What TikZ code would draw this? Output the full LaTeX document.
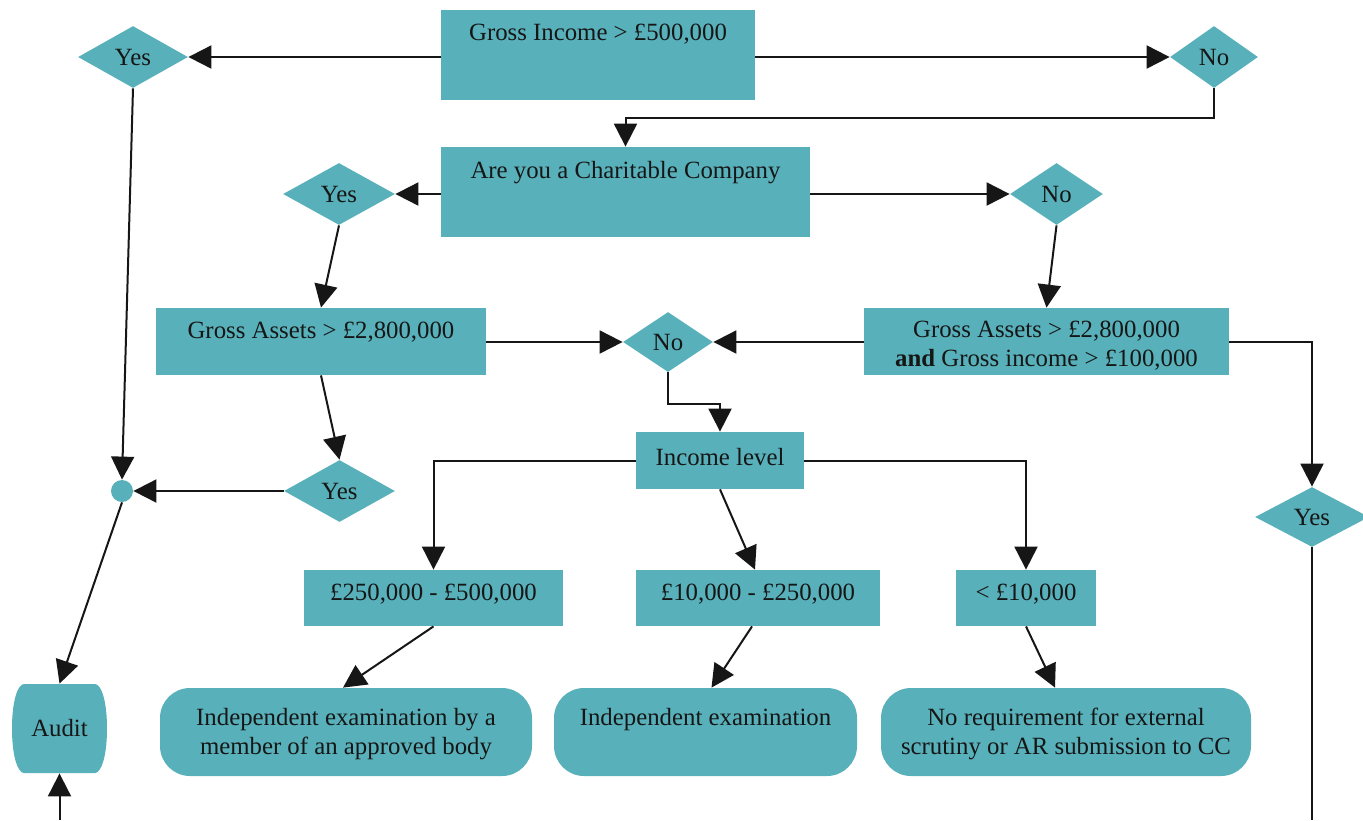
\documentclass[tikz,border=0pt]{standalone}
\usepackage{fontspec}
\setmainfont{Liberation Serif}
\usetikzlibrary{shapes.geometric,arrows.meta,calc}
\definecolor{tealbox}{RGB}{88,177,186}
\definecolor{ink}{RGB}{22,22,22}
\begin{document}
\begin{tikzpicture}[x=0.5pt,y=-0.5pt,
  font=\fontsize{12.4}{14.5}\selectfont, text=ink,
  box/.style={rectangle, fill=tealbox, inner sep=0},
  dia/.style={diamond, fill=tealbox, inner sep=0, aspect=1.8},
  rbox/.style={rectangle, rounded corners=15pt, fill=tealbox, inner sep=0},
  lbl/.style={anchor=north, inner sep=0, yshift=-7pt, align=center},
  rlbl/.style={anchor=north, inner sep=0, yshift=-10pt, align=center},
  arr/.style={-{Triangle[length=11.5pt,width=11.5pt]}, line width=1pt, draw=ink},
  ln/.style={line width=1pt, draw=ink}]
\useasboundingbox (0,0) rectangle (1363,820);

% boxes
\node[box, minimum width=157pt, minimum height=45pt, label={[lbl]north:Gross Income > £500,000}] (b1) at (598,55) {};
\node[box, minimum width=184.5pt, minimum height=45pt, label={[lbl]north:Are you a Charitable Company}] (b2) at (625.5,192) {};
\node[box, minimum width=165pt, minimum height=33.5pt, label={[lbl]north:Gross Assets > £2,800,000}] (b3) at (321,341.5) {};
\node[box, minimum width=182.5pt, minimum height=33.5pt, label={[lbl,yshift=0.5pt]north:{Gross Assets > £2,800,000\\\textbf{and} Gross income > £100,000}}] (b4) at (1046.5,341.5) {};
\node[box, minimum width=84pt, minimum height=28.5pt, label={[lbl,yshift=-1pt]north:Income level}] (inc) at (720,460.5) {};
\node[box, minimum width=129.5pt, minimum height=28pt, label={[lbl]north:£250,000 - £500,000}] (b250) at (433.5,598) {};
\node[box, minimum width=122pt, minimum height=28pt, label={[lbl]north:£10,000 - £250,000}] (b10) at (758,598) {};
\node[box, minimum width=70pt, minimum height=28pt, label={[lbl]north:< £10,000}] (blt) at (1026,598) {};

% rounded result boxes
\node[rbox, minimum width=186pt, minimum height=44pt, label={[rlbl]north:{Independent examination by a\\member of an approved body}}] (r1) at (346,732) {};
\node[rbox, minimum width=151.5pt, minimum height=44pt, label={[rlbl]north:Independent examination}] (r2) at (705.5,732) {};
\node[rbox, minimum width=185pt, minimum height=44pt, label={[rlbl]north:{No requirement for external\\scrutiny or AR submission to CC}}] (r3) at (1066,732) {};

% diamonds
\node[dia, minimum width=55pt, minimum height=31pt] (yes1) at (133,57) {Yes};
\node[dia, minimum width=44pt, minimum height=31pt] (no1) at (1214,57) {No};
\node[dia, minimum width=56pt, minimum height=31pt] (yes2) at (339,194) {Yes};
\node[dia, minimum width=46.5pt, minimum height=31pt] (no2) at (1056.5,194) {No};
\node[dia, minimum width=45pt, minimum height=30pt] (no3) at (668,342) {No};
\node[dia, minimum width=55.5pt, minimum height=31pt] (yes5) at (339.5,491) {Yes};
\node[dia, minimum width=57pt, minimum height=30pt] (yes4) at (1312,517) {Yes};

% junction dot
\node[circle, fill=tealbox, inner sep=0, minimum size=11pt] (dot) at (122,491) {};

% audit barrel
\fill[tealbox] (24,684) -- (95,684) .. controls (101,684) and (107,700) .. (107,728.5)
  .. controls (107,757) and (101,773) .. (95,773)
  -- (24,773) .. controls (18,773) and (12,757) .. (12,728.5)
  .. controls (12,700) and (18,684) .. (24,684);
\node[inner sep=0, minimum width=46.5pt, minimum height=44.5pt] (audit) at (59.5,728.5) {Audit};

\coordinate (bot1) at (1312,820);
\coordinate (bot2) at (59.5,820);

% connectors
\draw[arr] (b1.west |- yes1) -- (yes1.east);
\draw[arr] (b1.east |- no1) -- (no1.west);
\draw[arr] (no1.south) -- ++(0,30) -| (b2.north);
\draw[arr] (b2.west |- yes2) -- (yes2.east);
\draw[arr] (b2.east |- no2) -- (no2.west);
\draw[arr] (yes2.south) -- (b3.north);
\draw[arr] (no2.south) -- (b4.north);
\draw[arr] (b3.east |- no3) -- (no3.west);
\draw[arr] (b4.west |- no3) -- (no3.east);
\draw[arr] (b4.east) -| (yes4.north);
\draw[ln] (yes4.south) -- (bot1);
\draw[arr] (no3.south) -- ++(0,32) -| (inc.north);
\draw[arr] (inc.west) -| (b250.north);
\draw[arr] (inc.east) -| (blt.north);
\draw[arr] (inc.south) -- ($(b10.north)+(-3,0)$);
\draw[arr] (b250.south) -- ($(r1.north)+(-3,0)$);
\draw[arr] ($(b10.south)+(-6,0)$) -- ($(r2.north)+(6,0)$);
\draw[arr] (blt.south) -- ($(r3.north)+(-11,0)$);
\draw[arr] (b3.south) -- (yes5.north);
\draw[arr] (yes5.west) -- (dot.east);
\draw[arr] (yes1.south) -- (dot.north);
\draw[arr] (dot.south) -- (audit.north);
\draw[arr] (bot2) -- (audit.south);
\end{tikzpicture}
\end{document}
